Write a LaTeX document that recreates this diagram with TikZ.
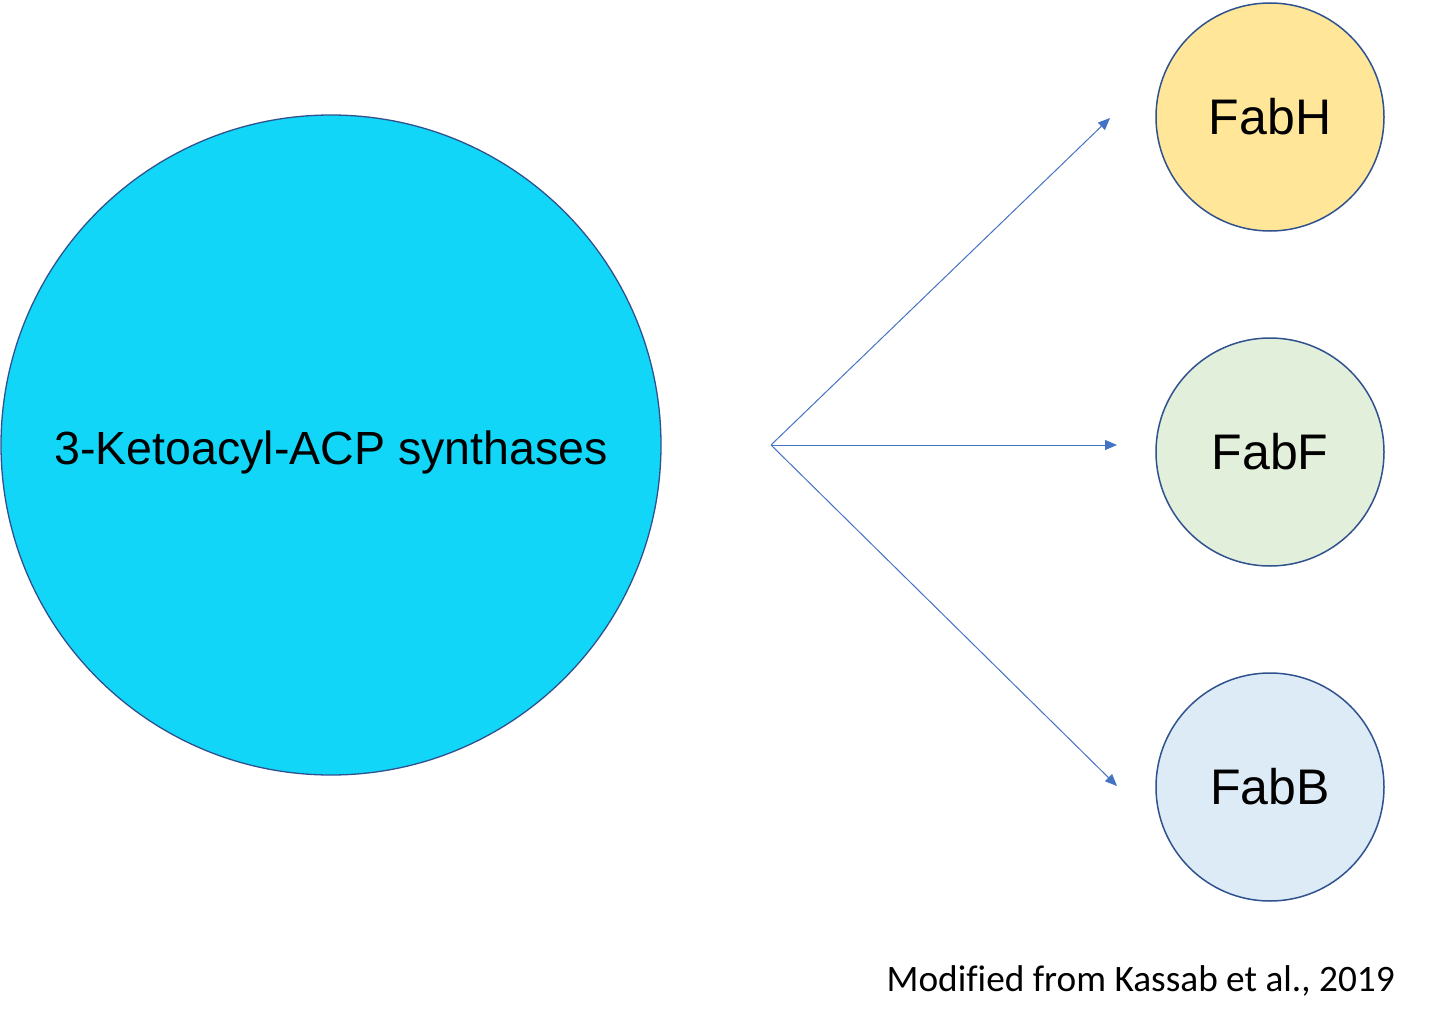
\documentclass[tikz,border=0pt]{standalone}
\usepackage{fontspec}
\setmainfont{Liberation Sans}
\newfontfamily\calfont[Ligatures=NoCommon]{Carlito}
\usetikzlibrary{arrows.meta}
\definecolor{edgeblue}{HTML}{2F528F}
\definecolor{arrowblue}{HTML}{4472C4}
\definecolor{bigfill}{HTML}{11D6F8}
\definecolor{hfill}{HTML}{FFE699}
\definecolor{ffill}{HTML}{E2EFDA}
\definecolor{bfill}{HTML}{DDEBF7}
\tikzset{
  bigcirc/.style={circle, draw=edgeblue, line width=1.3pt, fill=bigfill, minimum size=660pt, inner sep=0pt},
  bigtext/.style={inner sep=0pt, font=\fontsize{46.5}{50}\selectfont},
  smallcirc/.style={circle, draw=edgeblue, line width=1.5pt, minimum size=228pt, inner sep=0pt, font=\fontsize{50}{56}\selectfont},
  conn/.style={draw=arrowblue, line width=1pt, -{Triangle[length=12pt,width=10pt]}}
}
\begin{document}
\begin{tikzpicture}[x=1pt,y=1pt]
\useasboundingbox (0,0) rectangle (1440,-1025);
\node[bigcirc] (big) at (331,-445) {};
\node[bigtext] (bigtxt) at (331,-452) {3-Ketoacyl-ACP synthases};
\node[smallcirc, fill=hfill] (fabh) at (1270,-117) {FabH};
\node[smallcirc, fill=ffill] (fabf) at (1270,-452) {FabF};
\node[smallcirc, fill=bfill] (fabb) at (1270,-787) {FabB};
\coordinate (src) at (771,-445);
\coordinate (th) at (1110,-118);
\coordinate (tf) at (1117,-445);
\coordinate (tb) at (1117,-786);
\draw[conn] (src) -- (th);
\draw[conn] (src) -- (tf);
\draw[conn] (src) -- (tb);
\node[anchor=base east, font=\calfont\fontsize{37.3}{40}\selectfont, inner sep=0pt] (cite) at (1395,-991) {Modified from Kassab et al., 2019};
\end{tikzpicture}
\end{document}
